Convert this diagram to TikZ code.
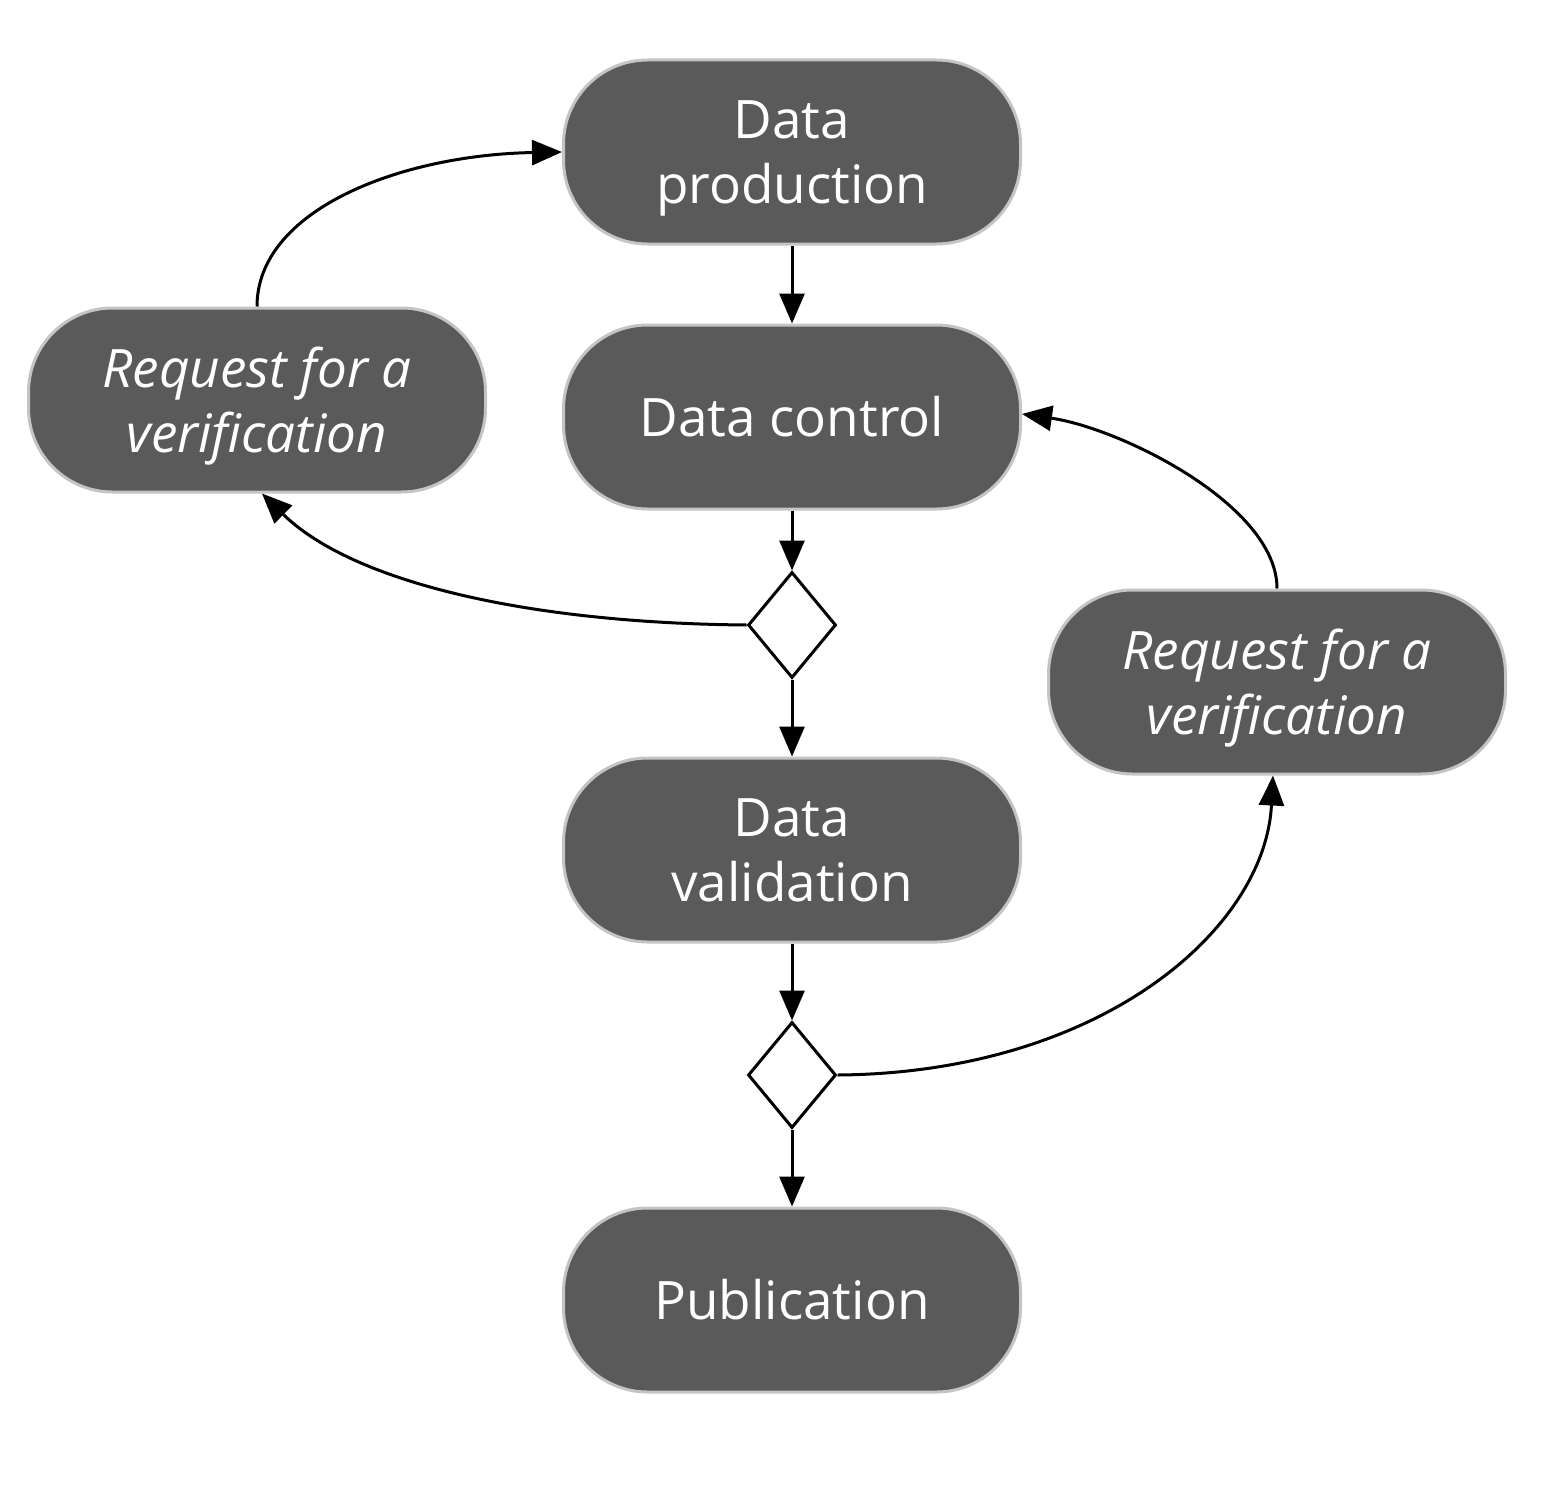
\documentclass[tikz,border=0pt]{standalone}
\usepackage{fontspec}
\setmainfont{Open Sans}
\usetikzlibrary{shapes.geometric,arrows.meta}
\definecolor{boxfill}{HTML}{5A5A5A}
\definecolor{boxline}{HTML}{C4C4C4}
\begin{document}
\begin{tikzpicture}[x=1pt,y=-1pt,
  proc/.style={rectangle, rounded corners=84pt, fill=boxfill, draw=boxline, line width=3pt,
    minimum width=457pt, minimum height=184pt, inner sep=0pt, text=white,
    align=center, font=\fontsize{53}{65}\selectfont},
  twoline/.style={text depth=0pt},
  req/.style={proc, twoline, font=\fontsize{53}{65}\selectfont\itshape},
  choice/.style={diamond, draw=black, fill=white, line width=3pt, minimum width=88pt,
    minimum height=106pt, inner sep=0pt},
  flow/.style={-{Triangle[length=30pt,width=25pt]}, line width=3pt, black}]
\useasboundingbox (0,0) rectangle (1554,1498);
\node[proc, twoline] (prod) at (792,152) {Data\\production};
\node[proc] (ctrl) at (792,417) {Data control};
\node[choice] (d1) at (792,625) {};
\node[proc, twoline] (valid) at (792,850) {Data\\validation};
\node[choice] (d2) at (792,1075) {};
\node[proc] (pub) at (792,1300) {Publication};
\node[req] (reqL) at (257,400) {Request for a\\verification};
\node[req] (reqR) at (1277,682) {Request for a\\verification};

\draw[flow] (prod.south) -- (ctrl.north);
\draw[flow] (ctrl.south) -- (d1.north);
\draw[flow] (d1.south) -- (valid.north);
\draw[flow] (valid.south) -- (d2.north);
\draw[flow] (d2.south) -- (pub.north);

\draw[flow] (d1.west) .. controls (520,623) and (350,580) .. ([xshift=5pt]reqL.south);
\draw[flow] (reqL.north) .. controls (257,210) and (400,155) .. ([yshift=0pt]prod.west);
\draw[flow] (d2.east) .. controls (1100,1073) and (1265,930) .. ([xshift=-4pt]reqR.south);
\draw[flow] (reqR.north) .. controls (1277,505) and (1120,428) .. ([yshift=3pt]ctrl.east);
\end{tikzpicture}
\end{document}
